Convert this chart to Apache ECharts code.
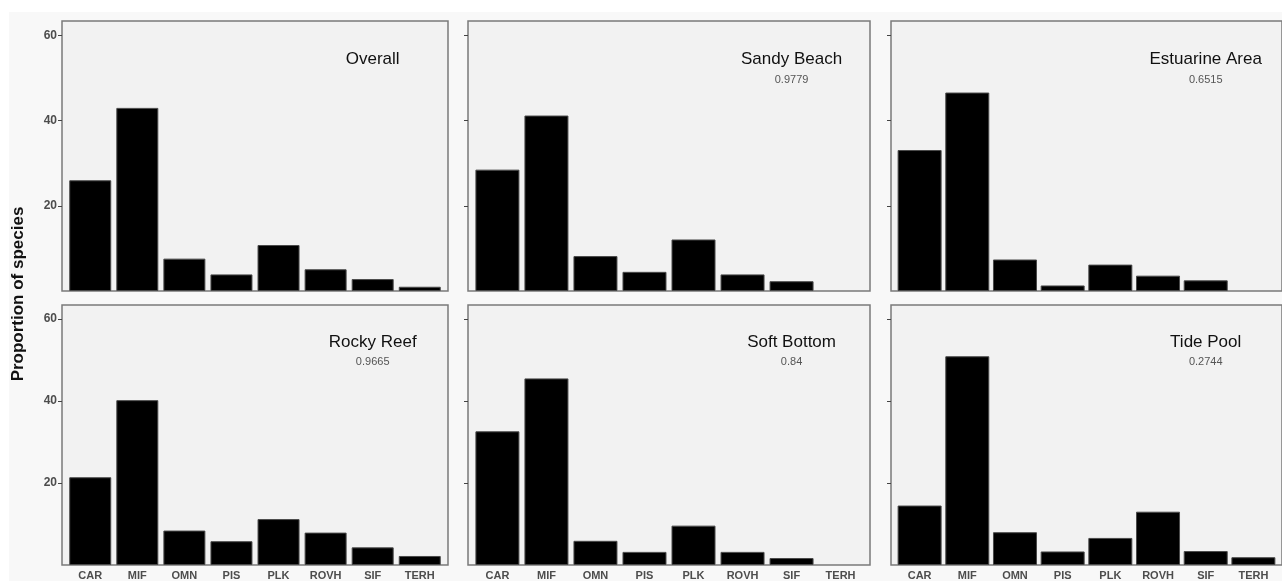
<!DOCTYPE html>
<html>
<head>
<meta charset="utf-8">
<script src="https://cdn.jsdelivr.net/npm/echarts@6/dist/echarts.min.js"></script>
<style>
  html, body { margin: 0; padding: 0; background: #ffffff; }
  #bg { position: absolute; left: 9px; top: 12px; width: 1273px; height: 569px; background: #f8f8f8; }
  #main { position: absolute; left: 0; top: 0; width: 1282px; height: 581px; }
</style>
</head>
<body>
<div id="bg"></div>
<div id="main"></div>
<script>
// 功能类群
var categories = ['CAR', 'MIF', 'OMN', 'PIS', 'PLK', 'ROVH', 'SIF', 'TERH'];
var yTicks = [20, 40, 60];

// 各生境的物种比例
var overall     = [26.0, 43.0, 7.6, 3.9, 10.8, 5.1, 2.8, 1.0];
var sandyBeach  = [28.5, 41.2, 8.2, 4.5, 12.1, 3.9, 2.3, 0];
var estuarine   = [33.1, 46.6, 7.4, 1.3, 6.2, 3.6, 2.5, 0];
var rockyReef   = [21.4, 40.2, 8.4, 5.8, 11.2, 7.9, 4.3, 2.2];
var softBottom  = [32.6, 45.5, 5.9, 3.2, 9.6, 3.2, 1.7, 0];
var tidePool    = [14.5, 50.9, 8.0, 3.3, 6.6, 13.0, 3.4, 1.9];

var panelNames  = ['Overall', 'Sandy Beach', 'Estuarine Area', 'Rocky Reef', 'Soft Bottom', 'Tide Pool'];
var panelValues = ['', '0.9779', '0.6515', '0.9665', '0.84', '0.2744'];
var panelData   = [overall, sandyBeach, estuarine, rockyReef, softBottom, tidePool];

// 面板位置 (像素)
var colLeft  = [62, 468, 891];
var colWidth = [386, 402, 402];
var rowTop    = [21, 305];
var rowHeight = [270, 263];

var font = 'Liberation Sans, Arial, sans-serif';
var chart = echarts.init(document.getElementById('main'));

var grids = [], xAxes = [], yAxes = [], series = [];
panelData.forEach(function (values, i) {
    var col = i % 3, row = Math.floor(i / 3);
    grids.push({
        left: colLeft[col], top: rowTop[row], width: colWidth[col], height: rowHeight[row],
        show: true, backgroundColor: '#f2f2f2', borderColor: '#7a7a7a', borderWidth: 1.5
    });
    xAxes.push({
        type: 'value', gridIndex: i, min: -0.6, max: 7.6,
        splitLine: { show: false }, axisLine: { show: false, onZero: false }, axisTick: { show: false },
        axisLabel: {
            show: row === 1,
            customValues: categories.map(function (c, k) { return k; }),
            formatter: function (v) { return categories[v]; },
            color: '#4d4d4d', fontWeight: 'bold', fontSize: 11, margin: 5, fontFamily: font
        }
    });
    yAxes.push({
        type: 'value', gridIndex: i, min: 0, max: 63.4,
        splitLine: { show: false }, axisLine: { show: false, onZero: false },
        axisTick: { show: true, length: 4, customValues: yTicks, lineStyle: { color: '#444', width: 1 } },
        axisLabel: {
            show: col === 0, customValues: yTicks,
            color: '#4d4d4d', fontWeight: 'bold', fontSize: 12, margin: 5, fontFamily: font
        }
    });
    series.push({
        type: 'bar', xAxisIndex: i, yAxisIndex: i,
        barWidth: col === 0 ? 42 : 44,
        itemStyle: { color: '#000000', borderColor: '#4a4a4a', borderWidth: 1 },
        // 0 值不画
        data: values.map(function (v, k) { return v > 0 ? [k, v] : [k, '-']; })
    });
    // 面板标题和数值
    var labels = [{
        value: [6, 54.3],
        label: { formatter: panelNames[i], fontSize: 17, color: '#111111' }
    }];
    if (panelValues[i]) {
        labels.push({
            value: [6, 49.5],
            label: { formatter: panelValues[i], fontSize: 11, color: '#555555' }
        });
    }
    series.push({
        type: 'scatter', xAxisIndex: i, yAxisIndex: i, symbolSize: 1, silent: true, z: 10,
        itemStyle: { color: '#f2f2f2', opacity: 1 },
        label: { show: true, position: 'inside', textBorderWidth: 0, fontFamily: font },
        data: labels
    });
});

var option = {
    animation: false,
    grid: grids,
    xAxis: xAxes,
    yAxis: yAxes,
    series: series,
    graphic: [{
        type: 'text', x: 18, y: 294, rotation: Math.PI / 2,
        style: {
            text: 'Proportion of species', fill: '#111111',
            font: 'bold 17px Liberation Sans, Arial, sans-serif', align: 'center', verticalAlign: 'middle'
        }
    }]
};
chart.setOption(option);
</script>
</body>
</html>
